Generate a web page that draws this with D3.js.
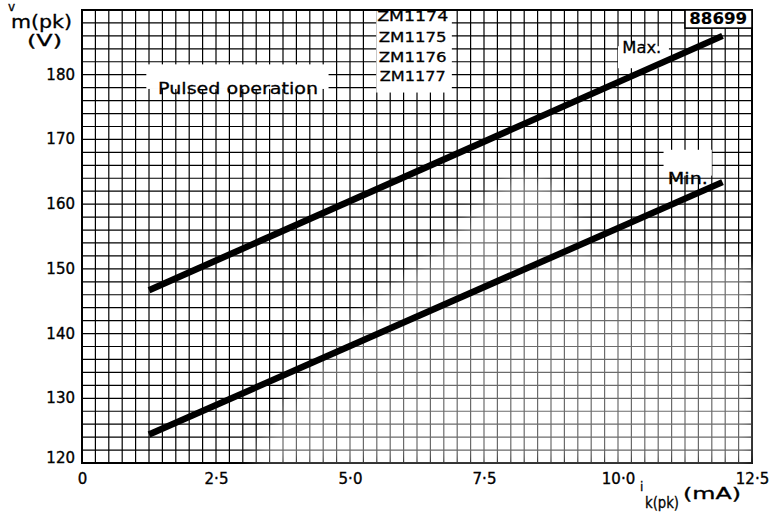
<!DOCTYPE html>
<html>
<head>
<meta charset="utf-8">
<script src="https://cdn.jsdelivr.net/npm/d3@7"></script>
<style>
  body { margin: 0; background: #fff; }
  text { font-family: "DejaVu Sans", sans-serif; fill: #000; }
</style>
</head>
<body>
<svg width="781" height="513"></svg>
<script>
// data
const xTicks = [0, 2.5, 5.0, 7.5, 10.0, 12.5]
const yTicks = [120, 130, 140, 150, 160, 170, 180]
const maxCurve = [[1.25, 146.7], [11.95, 186.0]]
const minCurve = [[1.25, 124.4], [11.95, 163.4]]
const typeNumbers = ['ZM1174', 'ZM1175', 'ZM1176', 'ZM1177']
// faded part of the scan, in mA / V
const fadeArea = [[3.1, 120], [4.7, 139], [6.9, 155], [7.8, 163.2], [8.35, 165.0],
    [9.0, 161.8], [9.45, 152.2], [12.5, 151.2], [12.5, 120]]

const svg = d3.select('svg')
const width = +svg.attr('width'),
    height = +svg.attr('height'),
    margin = { top: 10, right: 29, bottom: 50, left: 82 }

const x = d3.scaleLinear().domain([0, 12.5]).range([margin.left, width - margin.right])
const y = d3.scaleLinear().domain([120, 190]).range([height - margin.bottom, margin.top])

const fmt = d => d3.format('.1f')(d).replace('.', '\u00b7').replace(/^0\u00b70$/, '0')

// graph paper
const grid = svg.append('g').attr('stroke', '#000').attr('stroke-width', 1.2)
grid.selectAll('.gx')
    .data(d3.range(0, 12.5001, 0.25))
    .enter().append('line')
    .attr('x1', d => x(d)).attr('x2', d => x(d))
    .attr('y1', y(120)).attr('y2', y(190))
grid.selectAll('.gy')
    .data(d3.range(120, 190.001, 2))
    .enter().append('line')
    .attr('y1', d => y(d)).attr('y2', d => y(d))
    .attr('x1', x(0)).attr('x2', x(12.5))
svg.append('rect')
    .attr('x', x(0)).attr('y', y(190))
    .attr('width', x(12.5) - x(0)).attr('height', y(120) - y(190))
    .attr('fill', 'none').attr('stroke', '#000').attr('stroke-width', 2)

// washed out scan region
const defs = svg.append('defs')
defs.append('filter').attr('id', 'soft')
    .attr('x', '-20%').attr('y', '-20%').attr('width', '140%').attr('height', '140%')
    .append('feGaussianBlur').attr('stdDeviation', 8)
svg.append('path')
    .attr('d', d3.line().x(d => x(d[0])).y(d => y(d[1]))(fadeArea) + 'Z')
    .attr('fill', '#fff').attr('opacity', 0.42)
    .attr('filter', 'url(#soft)')

const label = (g, str, px, py, size, opts = {}) => {
    const t = g.append('text')
        .text(str)
        .attr('x', px).attr('y', py)
        .attr('font-size', size)
        .attr('text-anchor', opts.anchor || 'start')
        .attr('stroke', '#000').attr('stroke-width', opts.sw == null ? 0.3 : opts.sw)
        .attr('font-weight', opts.weight || 'normal')
    if (opts.len) t.attr('textLength', opts.len).attr('lengthAdjust', 'spacingAndGlyphs')
    return t
}

// boxes on the paper
const boxes = svg.append('g')
boxes.append('rect')
    .attr('x', x(5.49)).attr('y', y(190) + 1)
    .attr('width', x(6.9) - x(5.49)).attr('height', y(177.4) - y(190))
    .attr('fill', '#fff')
const zmY = [21, 42, 62, 81]
typeNumbers.forEach((t, i) => {
    label(boxes, t, x(6.17), zmY[i], 14.5, { anchor: 'middle', len: i === 3 ? 66 : (i === 0 ? 71 : 68) })
})

boxes.append('rect')
    .attr('x', x(11.25)).attr('y', y(190))
    .attr('width', x(12.5) - x(11.25)).attr('height', y(187.2) - y(190))
    .attr('fill', '#fff').attr('stroke', '#000').attr('stroke-width', 1.6)
label(boxes, '88699', x(11.87), 24, 15, { anchor: 'middle', weight: 'bold', sw: 0.1, len: 58 })

boxes.append('rect')
    .attr('x', x(1.2)).attr('y', y(181.6))
    .attr('width', x(4.6) - x(1.2)).attr('height', y(177.8) - y(181.6))
    .attr('fill', '#fff')
label(boxes, 'Pulsed operation', x(1.42), 94, 16, { len: 160 })

boxes.append('rect')
    .attr('x', x(10.0)).attr('y', y(184.4))
    .attr('width', x(10.95) - x(10.0)).attr('height', y(181.0) - y(184.4))
    .attr('fill', '#fff')
label(boxes, 'Max.', x(10.08), 53, 16, { len: 39 })

boxes.append('rect')
    .attr('x', x(10.85)).attr('y', y(168.4))
    .attr('width', x(11.75) - x(10.85)).attr('height', y(164.4) - y(168.4))
    .attr('fill', '#fff')
label(boxes, 'Min.', x(10.93), 184, 16, { len: 40 })

// curves
const line = d3.line().x(d => x(d[0])).y(d => y(d[1]))
;[maxCurve, minCurve].forEach(c => {
    svg.append('path')
        .attr('d', line(c))
        .attr('fill', 'none')
        .attr('stroke', '#000')
        .attr('stroke-width', 6.5)
})

// axes tick labels
const xAxis = svg.append('g')
    .attr('transform', `translate(0,${y(120)})`)
    .call(d3.axisBottom(x).tickValues(xTicks).tickSize(0).tickPadding(0).tickFormat(fmt))
xAxis.select('.domain').remove()
xAxis.selectAll('text')
    .attr('font-size', 15).attr('font-family', '"DejaVu Sans", sans-serif')
    .attr('dy', 21).attr('stroke', '#000').attr('stroke-width', 0.35)

const yAxis = svg.append('g')
    .attr('transform', `translate(${x(0) - 7},0)`)
    .call(d3.axisLeft(y).tickValues(yTicks).tickSize(0).tickPadding(0))
yAxis.select('.domain').remove()
yAxis.selectAll('text')
    .attr('font-size', 15).attr('font-family', '"DejaVu Sans", sans-serif')
    .attr('dy', '0.3em').attr('stroke', '#000').attr('stroke-width', 0.35)
yAxis.selectAll('.tick').filter(d => d === 120).select('text').attr('dy', '-0.05em')

// axis titles
const titles = svg.append('g')
label(titles, 'v', 8, 11, 12)
label(titles, 'm(pk)', 11, 28, 17, { len: 61 })
label(titles, '(V)', 27, 46, 16, { len: 35 })

label(titles, 'i', 640, 491, 12)
label(titles, 'k(pk)', 645, 508, 16, { len: 34 })
label(titles, '(mA)', 683, 499, 15, { len: 58 })
</script>
</body>
</html>
